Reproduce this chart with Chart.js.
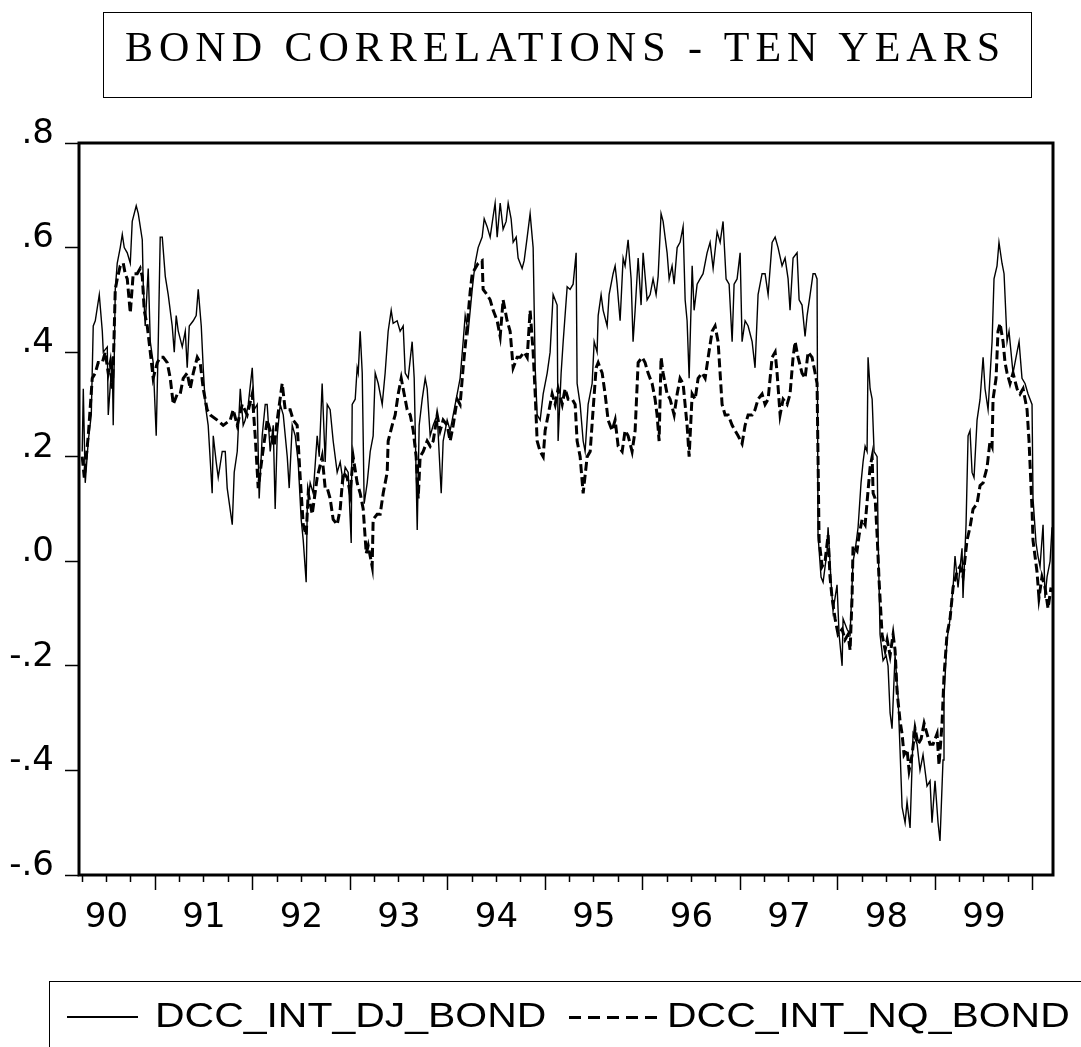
<!DOCTYPE html>
<html>
<head>
<meta charset="utf-8">
<script src="https://cdn.jsdelivr.net/npm/chart.js@4.4.1/dist/chart.umd.min.js"></script>
<style>
  html, body { margin: 0; padding: 0; background: #fff; width: 1081px; height: 1047px; overflow: hidden; }
  #chart { position: absolute; left: 0; top: 0; }
  .box { position: absolute; border: 1.5px solid #000; box-sizing: border-box; }
  .txt { position: absolute; white-space: nowrap; color: #000; }
</style>
</head>
<body>
<canvas id="chart" width="1081" height="1047"></canvas>

<div class="box" style="left:103px; top:12px; width:929px; height:86px;"></div>
<div class="txt" id="title" style="left:125px; top:26px; font: 42px/42px 'Liberation Serif', 'Times New Roman', serif; letter-spacing: 6px;">BOND CORRELATIONS - TEN YEARS</div>

<div class="box" style="left:49px; top:981px; width:1100px; height:100px;"></div>
<div style="position:absolute; left:67px; top:1016px; width:71px; height:1.5px; background:#000;"></div>
<div class="txt" style="left:155px; top:995px; font: 35px/40px 'Liberation Sans', Arial, sans-serif; transform: scaleX(1.17); transform-origin: left center;">DCC_INT_DJ_BOND</div>
<div style="position:absolute; left:569px; top:1016px; width:92px; height:2.5px; background: repeating-linear-gradient(to right, #000 0 12px, transparent 12px 19px);"></div>
<div class="txt" style="left:667px; top:995px; font: 35px/40px 'Liberation Sans', Arial, sans-serif; transform: scaleX(1.17); transform-origin: left center;">DCC_INT_NQ_BOND</div>

<script>
// weekly correlation series (x = decimal year)
const djDates = [
  1990.251, 1990.262, 1990.282, 1990.313, 1990.344, 1990.364, 1990.385, 1990.426, 1990.457, 1990.467,
  1990.508, 1990.518, 1990.559, 1990.569, 1990.590, 1990.610, 1990.641, 1990.662, 1990.682, 1990.713,
  1990.744, 1990.764, 1990.805, 1990.826, 1990.867, 1990.877, 1990.897, 1990.928, 1990.949, 1990.979,
  1991.010, 1991.031, 1991.051, 1991.072, 1991.103, 1991.133, 1991.174, 1991.195, 1991.215, 1991.236,
  1991.277, 1991.308, 1991.328, 1991.349, 1991.390, 1991.420, 1991.441, 1991.472, 1991.492, 1991.513,
  1991.543, 1991.584, 1991.595, 1991.625, 1991.646, 1991.687, 1991.718, 1991.738, 1991.790, 1991.810,
  1991.841, 1991.872, 1991.902, 1991.923, 1991.954, 1991.995, 1992.015, 1992.046, 1992.066, 1992.097,
  1992.128, 1992.148, 1992.179, 1992.210, 1992.230, 1992.251, 1992.282, 1992.313, 1992.354, 1992.374,
  1992.405, 1992.436, 1992.466, 1992.497, 1992.518, 1992.548, 1992.559, 1992.589, 1992.620, 1992.661,
  1992.682, 1992.712, 1992.743, 1992.764, 1992.794, 1992.825, 1992.866, 1992.897, 1992.928, 1992.948,
  1992.979, 1993.010, 1993.020, 1993.051, 1993.071, 1993.082, 1993.102, 1993.123, 1993.143, 1993.174,
  1993.205, 1993.235, 1993.256, 1993.287, 1993.328, 1993.358, 1993.389, 1993.420, 1993.440, 1993.481,
  1993.512, 1993.543, 1993.564, 1993.594, 1993.635, 1993.656, 1993.687, 1993.707, 1993.738, 1993.769,
  1993.789, 1993.820, 1993.851, 1993.892, 1993.933, 1993.953, 1993.994, 1994.025, 1994.056, 1994.097,
  1994.127, 1994.158, 1994.179, 1994.210, 1994.251, 1994.281, 1994.312, 1994.353, 1994.374, 1994.404,
  1994.435, 1994.466, 1994.486, 1994.507, 1994.538, 1994.568, 1994.599, 1994.620, 1994.650, 1994.671,
  1994.702, 1994.722, 1994.763, 1994.784, 1994.815, 1994.845, 1994.876, 1994.897, 1994.917, 1994.948,
  1994.979, 1995.020, 1995.050, 1995.081, 1995.122, 1995.132, 1995.163, 1995.184, 1995.225, 1995.255,
  1995.286, 1995.317, 1995.327, 1995.358, 1995.389, 1995.409, 1995.440, 1995.481, 1995.502, 1995.532,
  1995.543, 1995.573, 1995.594, 1995.635, 1995.655, 1995.696, 1995.717, 1995.737, 1995.768, 1995.799,
  1995.819, 1995.850, 1995.881, 1995.901, 1995.922, 1995.953, 1995.983, 1996.004, 1996.045, 1996.076,
  1996.106, 1996.137, 1996.158, 1996.188, 1996.209, 1996.250, 1996.271, 1996.301, 1996.322, 1996.353,
  1996.383, 1996.414, 1996.435, 1996.455, 1996.476, 1996.507, 1996.527, 1996.558, 1996.588, 1996.619,
  1996.660, 1996.691, 1996.722, 1996.763, 1996.794, 1996.824, 1996.855, 1996.886, 1996.917, 1996.937,
  1996.968, 1996.999, 1997.019, 1997.050, 1997.081, 1997.122, 1997.152, 1997.183, 1997.224, 1997.255,
  1997.286, 1997.327, 1997.358, 1997.388, 1997.429, 1997.460, 1997.491, 1997.511, 1997.542, 1997.583,
  1997.604, 1997.634, 1997.665, 1997.686, 1997.717, 1997.747, 1997.768, 1997.788, 1997.798, 1997.829,
  1997.850, 1997.891, 1997.901, 1997.932, 1997.952, 1997.993, 1998.014, 1998.045, 1998.055, 1998.096,
  1998.127, 1998.157, 1998.178, 1998.209, 1998.239, 1998.260, 1998.281, 1998.301, 1998.311, 1998.332,
  1998.353, 1998.373, 1998.404, 1998.414, 1998.434, 1998.465, 1998.496, 1998.516, 1998.537, 1998.557,
  1998.588, 1998.619, 1998.639, 1998.660, 1998.691, 1998.711, 1998.742, 1998.773, 1998.814, 1998.844,
  1998.875, 1998.916, 1998.947, 1998.967, 1998.998, 1999.029, 1999.049, 1999.080, 1999.090, 1999.121,
  1999.152, 1999.183, 1999.203, 1999.234, 1999.275, 1999.285, 1999.316, 1999.337, 1999.357, 1999.378,
  1999.398, 1999.429, 1999.460, 1999.491, 1999.511, 1999.542, 1999.583, 1999.603, 1999.634, 1999.654,
  1999.685, 1999.706, 1999.737, 1999.757, 1999.798, 1999.839, 1999.860, 1999.890, 1999.921, 1999.952,
  1999.993, 2000.003, 2000.034, 2000.054, 2000.075, 2000.106, 2000.126, 2000.147, 2000.178, 2000.198
];
const djValues = [
  0.21, 0.33, 0.15, 0.23, 0.28, 0.45, 0.46, 0.51, 0.44, 0.40,
  0.41, 0.28, 0.39, 0.26, 0.52, 0.57, 0.60, 0.625, 0.60, 0.59,
  0.57, 0.65, 0.68, 0.665, 0.615, 0.53, 0.45, 0.56, 0.42, 0.38,
  0.24, 0.42, 0.62, 0.62, 0.545, 0.51, 0.45, 0.40, 0.47, 0.44,
  0.41, 0.44, 0.37, 0.45, 0.46, 0.47, 0.52, 0.45, 0.37, 0.30,
  0.26, 0.13, 0.24, 0.19, 0.16, 0.21, 0.21, 0.14, 0.07, 0.17,
  0.21, 0.33, 0.26, 0.27, 0.30, 0.37, 0.29, 0.30, 0.12, 0.24,
  0.30, 0.30, 0.21, 0.26, 0.10, 0.24, 0.30, 0.28, 0.20, 0.14,
  0.26, 0.24, 0.19, 0.08, 0.04, -0.04, 0.10, 0.15, 0.13, 0.24,
  0.20, 0.34, 0.19, 0.30, 0.29, 0.23, 0.17, 0.19, 0.15, 0.18,
  0.17, 0.035, 0.30, 0.31, 0.37, 0.36, 0.44, 0.36, 0.11, 0.15,
  0.21, 0.24, 0.36, 0.34, 0.30, 0.36, 0.44, 0.48, 0.455, 0.46,
  0.44, 0.45, 0.36, 0.35, 0.42, 0.35, 0.06, 0.26, 0.31, 0.35,
  0.33, 0.24, 0.26, 0.28, 0.13, 0.23, 0.27, 0.25, 0.28, 0.32,
  0.35, 0.42, 0.47, 0.44, 0.52, 0.57, 0.60, 0.62, 0.655, 0.64,
  0.62, 0.66, 0.685, 0.62, 0.685, 0.635, 0.65, 0.685, 0.655, 0.61,
  0.62, 0.58, 0.56, 0.575, 0.62, 0.665, 0.60, 0.37, 0.28, 0.27,
  0.32, 0.36, 0.40, 0.51, 0.49, 0.23, 0.36, 0.42, 0.525, 0.52,
  0.53, 0.59, 0.34, 0.30, 0.23, 0.21, 0.30, 0.34, 0.42, 0.40,
  0.47, 0.51, 0.48, 0.45, 0.51, 0.55, 0.565, 0.53, 0.46, 0.58,
  0.565, 0.615, 0.54, 0.42, 0.48, 0.58, 0.49, 0.59, 0.50, 0.51,
  0.54, 0.51, 0.545, 0.665, 0.65, 0.59, 0.54, 0.565, 0.53, 0.60,
  0.61, 0.64, 0.50, 0.46, 0.35, 0.565, 0.48, 0.53, 0.54, 0.55,
  0.59, 0.61, 0.56, 0.63, 0.61, 0.65, 0.54, 0.53, 0.42, 0.53,
  0.54, 0.59, 0.42, 0.46, 0.45, 0.42, 0.37, 0.51, 0.55, 0.55,
  0.51, 0.61, 0.62, 0.60, 0.565, 0.58, 0.54, 0.48, 0.58, 0.59,
  0.50, 0.49, 0.43, 0.47, 0.51, 0.55, 0.55, 0.54, 0.05, -0.03,
  -0.04, 0.02, 0.065, -0.04, -0.095, -0.045, -0.14, -0.20, -0.11, -0.13,
  -0.14, 0.0, 0.02, 0.065, 0.15, 0.19, 0.22, 0.21, 0.39, 0.33,
  0.31, 0.21, 0.20, 0.05, -0.14, -0.19, -0.18, -0.20, -0.29, -0.32,
  -0.18, -0.26, -0.36, -0.47, -0.50, -0.46, -0.51, -0.33, -0.35, -0.40,
  -0.37, -0.43, -0.42, -0.50, -0.42, -0.50, -0.535, -0.38, -0.26, -0.15,
  -0.11, -0.05, 0.01, -0.05, 0.025, -0.07, 0.07, 0.24, 0.25, 0.17,
  0.16, 0.27, 0.31, 0.39, 0.33, 0.29, 0.42, 0.54, 0.565, 0.61,
  0.57, 0.55, 0.42, 0.44, 0.36, 0.40, 0.42, 0.35, 0.34, 0.32,
  0.30, 0.12, 0.035, 0.01, -0.01, 0.07, -0.07, -0.03, 0.00, 0.065
];

const nqDates = [
  1990.251, 1990.272, 1990.313, 1990.354, 1990.385, 1990.415, 1990.457, 1990.487, 1990.518, 1990.539,
  1990.559, 1990.569, 1990.590, 1990.610, 1990.641, 1990.672, 1990.692, 1990.713, 1990.744, 1990.774,
  1990.815, 1990.846, 1990.867, 1990.887, 1990.918, 1990.949, 1990.979, 1991.021, 1991.051, 1991.082,
  1991.123, 1991.154, 1991.185, 1991.226, 1991.256, 1991.287, 1991.328, 1991.359, 1991.390, 1991.431,
  1991.461, 1991.492, 1991.533, 1991.564, 1991.636, 1991.697, 1991.769, 1991.800, 1991.841, 1991.892,
  1991.943, 1991.995, 1992.025, 1992.056, 1992.097, 1992.148, 1992.179, 1992.220, 1992.251, 1992.302,
  1992.333, 1992.384, 1992.415, 1992.456, 1992.487, 1992.518, 1992.548, 1992.569, 1992.610, 1992.661,
  1992.712, 1992.743, 1992.764, 1992.794, 1992.825, 1992.866, 1992.897, 1992.928, 1992.969, 1992.999,
  1993.030, 1993.071, 1993.102, 1993.133, 1993.164, 1993.184, 1993.225, 1993.235, 1993.276, 1993.307,
  1993.338, 1993.379, 1993.389, 1993.430, 1993.461, 1993.492, 1993.523, 1993.543, 1993.584, 1993.615,
  1993.646, 1993.676, 1993.697, 1993.717, 1993.748, 1993.789, 1993.820, 1993.851, 1993.892, 1993.922,
  1993.953, 1993.994, 1994.025, 1994.056, 1994.097, 1994.127, 1994.158, 1994.199, 1994.230, 1994.251,
  1994.281, 1994.312, 1994.353, 1994.363, 1994.404, 1994.435, 1994.466, 1994.507, 1994.538, 1994.568,
  1994.609, 1994.640, 1994.671, 1994.712, 1994.743, 1994.784, 1994.815, 1994.845, 1994.876, 1994.897,
  1994.917, 1994.948, 1994.979, 1994.999, 1995.030, 1995.071, 1995.102, 1995.132, 1995.174, 1995.204,
  1995.235, 1995.276, 1995.307, 1995.327, 1995.358, 1995.389, 1995.430, 1995.461, 1995.491, 1995.522,
  1995.543, 1995.584, 1995.614, 1995.645, 1995.686, 1995.717, 1995.748, 1995.789, 1995.819, 1995.850,
  1995.891, 1995.922, 1995.953, 1995.994, 1996.024, 1996.055, 1996.096, 1996.127, 1996.147, 1996.168,
  1996.188, 1996.209, 1996.250, 1996.281, 1996.322, 1996.353, 1996.383, 1996.414, 1996.455, 1996.476,
  1996.507, 1996.538, 1996.568, 1996.609, 1996.640, 1996.671, 1996.712, 1996.742, 1996.773, 1996.814,
  1996.845, 1996.876, 1996.917, 1996.947, 1996.978, 1997.019, 1997.050, 1997.081, 1997.122, 1997.152,
  1997.183, 1997.224, 1997.255, 1997.286, 1997.327, 1997.358, 1997.378, 1997.409, 1997.440, 1997.481,
  1997.511, 1997.542, 1997.563, 1997.593, 1997.634, 1997.665, 1997.696, 1997.737, 1997.768, 1997.788,
  1997.809, 1997.840, 1997.870, 1997.901, 1997.921, 1997.942, 1997.973, 1998.004, 1998.045, 1998.075,
  1998.106, 1998.127, 1998.147, 1998.157, 1998.198, 1998.219, 1998.250, 1998.281, 1998.311, 1998.332,
  1998.353, 1998.363, 1998.384, 1998.404, 1998.425, 1998.455, 1998.486, 1998.507, 1998.537, 1998.568,
  1998.588, 1998.609, 1998.639, 1998.660, 1998.680, 1998.711, 1998.732, 1998.763, 1998.793, 1998.824,
  1998.855, 1998.886, 1998.916, 1998.947, 1998.978, 1999.019, 1999.039, 1999.070, 1999.090, 1999.121,
  1999.152, 1999.183, 1999.224, 1999.254, 1999.285, 1999.326, 1999.357, 1999.388, 1999.429, 1999.460,
  1999.491, 1999.532, 1999.562, 1999.583, 1999.593, 1999.624, 1999.644, 1999.665, 1999.696, 1999.716,
  1999.737, 1999.767, 1999.798, 1999.839, 1999.870, 1999.901, 1999.942, 1999.962, 1999.993, 2000.003,
  2000.044, 2000.064, 2000.095, 2000.126, 2000.157, 2000.188
];
const nqValues = [
  0.20, 0.16, 0.24, 0.35, 0.36, 0.38, 0.38, 0.40, 0.36, 0.38,
  0.33, 0.37, 0.52, 0.54, 0.565, 0.57, 0.55, 0.54, 0.475, 0.55,
  0.55, 0.56, 0.545, 0.48, 0.45, 0.40, 0.35, 0.38, 0.39, 0.39,
  0.38, 0.35, 0.30, 0.32, 0.32, 0.35, 0.36, 0.33, 0.36, 0.39,
  0.38, 0.33, 0.29, 0.28, 0.27, 0.26, 0.27, 0.29, 0.26, 0.30,
  0.28, 0.32, 0.24, 0.14, 0.20, 0.27, 0.25, 0.22, 0.27, 0.34,
  0.29, 0.29, 0.27, 0.26, 0.16, 0.07, 0.05, 0.13, 0.09, 0.16,
  0.20, 0.14, 0.14, 0.12, 0.08, 0.07, 0.10, 0.17, 0.16, 0.13,
  0.20, 0.15, 0.13, 0.10, 0.015, 0.03, -0.01, 0.08, 0.09, 0.09,
  0.13, 0.17, 0.23, 0.26, 0.28, 0.32, 0.35, 0.33, 0.29, 0.28,
  0.25, 0.20, 0.12, 0.20, 0.21, 0.23, 0.22, 0.23, 0.28, 0.25,
  0.27, 0.26, 0.23, 0.26, 0.31, 0.30, 0.37, 0.45, 0.515, 0.55,
  0.56, 0.57, 0.575, 0.52, 0.51, 0.50, 0.48, 0.46, 0.43, 0.50,
  0.46, 0.44, 0.37, 0.39, 0.39, 0.40, 0.39, 0.48, 0.40, 0.32,
  0.23, 0.21, 0.20, 0.25, 0.28, 0.32, 0.30, 0.33, 0.30, 0.33,
  0.31, 0.31, 0.30, 0.23, 0.20, 0.13, 0.20, 0.21, 0.29, 0.37,
  0.38, 0.36, 0.32, 0.27, 0.25, 0.27, 0.22, 0.21, 0.25, 0.24,
  0.21, 0.25, 0.38, 0.39, 0.38, 0.36, 0.34, 0.31, 0.28, 0.23,
  0.39, 0.36, 0.32, 0.31, 0.28, 0.32, 0.35, 0.34, 0.26, 0.20,
  0.32, 0.31, 0.35, 0.36, 0.35, 0.39, 0.44, 0.45, 0.42, 0.30,
  0.28, 0.28, 0.26, 0.25, 0.24, 0.225, 0.26, 0.28, 0.28, 0.29,
  0.31, 0.32, 0.30, 0.31, 0.39, 0.40, 0.36, 0.28, 0.31, 0.30,
  0.32, 0.39, 0.42, 0.39, 0.36, 0.35, 0.40, 0.39, 0.36, 0.34,
  0.04, -0.01, 0.00, 0.05, -0.03, -0.07, -0.11, -0.14, -0.13, -0.15,
  -0.14, -0.17, -0.07, 0.03, 0.02, 0.05, 0.08, 0.07, 0.135, 0.18,
  0.20, 0.13, 0.12, 0.05, -0.04, -0.14, -0.17, -0.15, -0.18, -0.14,
  -0.17, -0.25, -0.305, -0.33, -0.37, -0.36, -0.40, -0.37, -0.32, -0.35,
  -0.34, -0.31, -0.33, -0.35, -0.35, -0.33, -0.39, -0.31, -0.22, -0.14,
  -0.11, -0.05, -0.02, -0.01, -0.03, 0.04, 0.065, 0.10, 0.11, 0.145,
  0.15, 0.18, 0.23, 0.22, 0.31, 0.35, 0.44, 0.455, 0.42, 0.38,
  0.36, 0.34, 0.36, 0.33, 0.32, 0.33, 0.29, 0.23, 0.10, 0.04,
  -0.02, -0.07, -0.03, -0.05, -0.09, -0.05
];

const seriesNames = ['DCC_INT_DJ_BOND', 'DCC_INT_NQ_BOND'];
const yTicks = [-0.6, -0.4, -0.2, 0, 0.2, 0.4, 0.6, 0.8];
const xStart = 1990.218;
const xEnd = 2000.208;

const toPoints = (dates, values) => dates.map((d, i) => ({ x: d, y: values[i] }));

// box around the plot area
const framePlugin = {
  id: 'frame',
  afterDraw(chart) {
    const { ctx, chartArea } = chart;
    ctx.save();
    ctx.strokeStyle = '#000';
    ctx.lineWidth = 3;
    ctx.strokeRect(chartArea.left, chartArea.top, chartArea.right - chartArea.left, chartArea.bottom - chartArea.top);
    ctx.restore();
  }
};

new Chart(document.getElementById('chart'), {
  type: 'line',
  data: {
    datasets: [
      {
        label: seriesNames[0],
        data: toPoints(djDates, djValues),
        borderColor: '#000',
        borderWidth: 1.4,
        pointRadius: 0,
        tension: 0
      },
      {
        label: seriesNames[1],
        data: toPoints(nqDates, nqValues),
        borderColor: '#000',
        borderWidth: 3,
        borderDash: [9, 4],
        pointRadius: 0,
        tension: 0
      }
    ]
  },
  options: {
    responsive: false,
    animation: false,
    events: [],
    layout: { padding: { top: 143, right: 28, left: 0, bottom: 0 } },
    plugins: {
      legend: { display: false },
      title: { display: false },
      tooltip: { enabled: false }
    },
    scales: {
      x: {
        type: 'linear',
        min: xStart,
        max: xEnd,
        afterBuildTicks: (scale) => {
          // quarterly ticks, year starts get the long ones
          const t = [];
          for (let k = Math.ceil(xStart * 4); k <= Math.floor(xEnd * 4); k++) t.push({ value: k / 4 });
          scale.ticks = t;
        },
        afterFit: (scale) => { scale.height = 1047 - 875; },
        border: { display: false },
        grid: {
          drawOnChartArea: false,
          drawTicks: true,
          tickLength: 15,
          tickColor: '#000',
          tickWidth: 1.5,
          tickBorderDash: (c) => (c.tick && Number.isInteger(c.tick.value)) ? [] : [7, 40]
        },
        ticks: {
          autoSkip: false,
          maxRotation: 0,
          minRotation: 0,
          padding: 8,
          color: '#000',
          font: { family: "'DejaVu Sans', sans-serif", size: 34 },
          callback: (v) => (v % 1 === 0.5) ? String(Math.floor(v)).slice(2) : ''
        }
      },
      y: {
        min: -0.6,
        max: 0.8,
        afterBuildTicks: (scale) => { scale.ticks = yTicks.map(v => ({ value: v })); },
        afterFit: (scale) => { scale.width = 79; },
        border: { display: false },
        grid: {
          drawOnChartArea: false,
          drawTicks: true,
          tickLength: 14,
          tickColor: '#000',
          tickWidth: 1.5
        },
        ticks: {
          padding: 11,
          labelOffset: -9,
          color: '#000',
          font: { family: "'DejaVu Sans', sans-serif", size: 34 },
          callback: (v) => {
            const r = Math.round(v * 10);
            if (r === 0) return '.0';
            return (r < 0 ? '-' : '') + '.' + Math.abs(r);
          }
        }
      }
    }
  },
  plugins: [framePlugin]
});
</script>
</body>
</html>
